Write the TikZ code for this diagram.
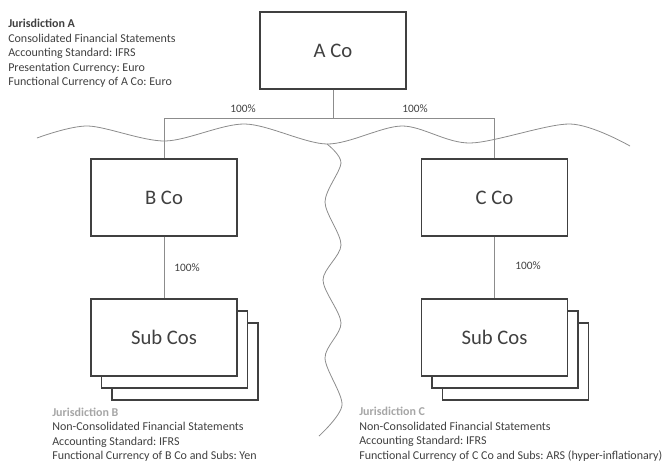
\documentclass[tikz,border=0pt]{standalone}
\usepackage{fontspec}
\setmainfont{Carlito}
\usetikzlibrary{positioning}
\definecolor{ink}{HTML}{404040}
\definecolor{linegray}{HTML}{8C8C8C}
\definecolor{jurgray}{HTML}{A6A6A6}
\frenchspacing

\begin{document}
\begin{tikzpicture}
    [x={(0.75pt,0)}, y={(0,-0.75pt)}, every node/.style={text=ink},
     box/.style={draw=ink, line width=1pt, fill=white, minimum width=109.5pt,
                 minimum height=57.75pt, font=\fontsize{15.5}{18}\selectfont},
     link/.style={draw=linegray, line width=0.6pt},
     wave/.style={draw=linegray, line width=0.6pt},
     pct/.style={inner sep=0pt, font=\fontsize{8.5}{10}\selectfont},
     note/.style={anchor=north west, inner sep=0pt, align=left,
                  font=\fontsize{9}{10.9}\selectfont}]
    \useasboundingbox (0,0) rectangle (671,461);

    % border lines between the jurisdictions
    \draw[wave] plot[smooth] coordinates {(37,138) (88,126) (165,141) (245,124)
        (327,144) (402,126) (470,143) (570,124) (630,146)};
    \draw[wave] plot[smooth] coordinates {(327,144) (341,163) (325,202) (341,245)
        (323,280) (341,323) (325,358) (342,405) (319,436)};

    % companies
    \node[box] (aco) at (333,50.5)  {A Co};
    \node[box] (bco) at (164,197.5) {B Co};
    \node[box] (cco) at (494.5,197.5) {C Co};

    \node[box] (subb3) at (185,361.5) {};
    \node[box] (subb2) at (174.5,349.5) {};
    \node[box] (subb)  at (164,337.5) {Sub Cos};
    \node[box] (subc3) at (515.5,361.5) {};
    \node[box] (subc2) at (505,349.5) {};
    \node[box] (subc)  at (494.5,337.5) {Sub Cos};

    % holdings
    \coordinate (bus) at (333,118);
    \draw[link] (aco) -- (bus);
    \draw[link] (bus) -| (bco);
    \draw[link] (bus) -| (cco);
    \draw[link] (bco) -- (subb);
    \draw[link] (cco) -- (subc);

    \node[pct] (pctb)  at (243,109) {100\%};
    \node[pct] (pctc)  at (415,109) {100\%};
    \node[pct] (pctsb) at (187,268) {100\%};
    \node[pct] (pctsc) at (528,266) {100\%};

    % jurisdiction notes
    \node[note] (jura) at (8,19) {\textbf{Jurisdiction A}\\
        Consolidated Financial Statements\\
        Accounting Standard: IFRS\\
        Presentation Currency: Euro\\
        Functional Currency of A Co: Euro};
    \node[note] (jurb) at (52,407.5) {\textcolor{jurgray}{\textbf{Jurisdiction B}}\\
        Non-Consolidated Financial Statements\\
        Accounting Standard: IFRS\\
        Functional Currency of B Co and Subs: Yen};
    \node[note] (jurc) at (359,407) {\textcolor{jurgray}{\textbf{Jurisdiction C}}\\
        Non-Consolidated Financial Statements\\
        Accounting Standard: IFRS\\
        Functional Currency of C Co and Subs: ARS (hyper-inflationary)};
\end{tikzpicture}
\end{document}
